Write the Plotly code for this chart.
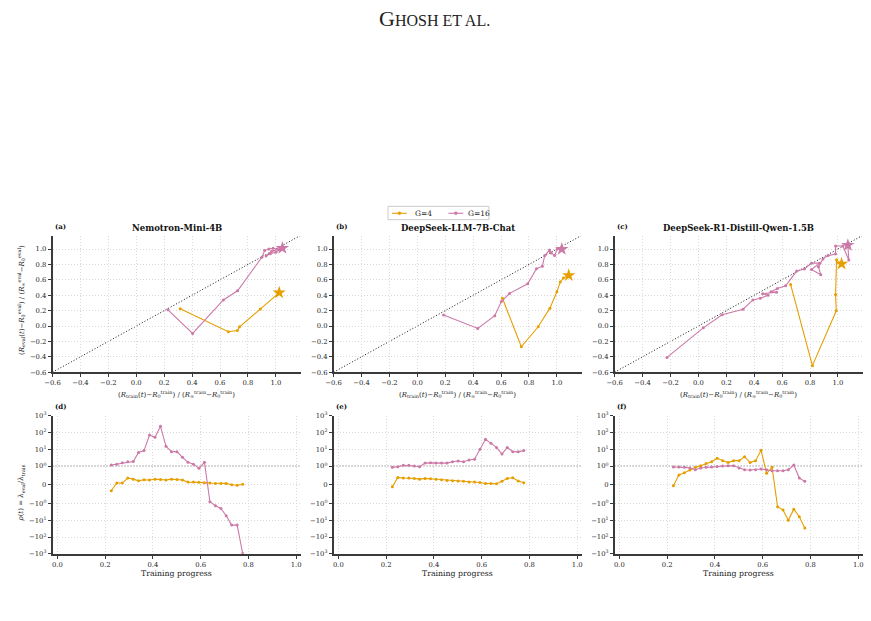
import plotly.graph_objects as go
import math

W, H = 871, 621

# ---------------- data ----------------
# Top row: normalized train reward (x) vs normalized eval reward (y)
a_g4_x = [0.315, 0.66, 0.724, 0.74, 0.889, 1.024]
a_g4_y = [0.224, -0.075, -0.058, -0.01, 0.22, 0.433]
a_g16_x = [0.227, 0.404, 0.624, 0.726, 0.90, 0.92, 0.95, 0.98, 1.01, 1.03, 1.0, 0.96, 0.93, 0.97, 1.047]
a_g16_y = [0.21, -0.096, 0.339, 0.458, 0.893, 0.98, 1.0, 1.01, 1.0, 0.99, 0.96, 0.94, 0.91, 0.97, 1.013]

b_g4_x = [0.61, 0.745, 0.866, 0.95, 1.0, 1.024, 1.047, 1.085]
b_g4_y = [0.36, -0.27, -0.01, 0.232, 0.445, 0.573, 0.624, 0.659]
b_g16_x = [0.188, 0.433, 0.555, 0.602, 0.661, 0.791, 0.854, 0.896, 0.913, 0.948, 0.96, 0.984, 1.002, 1.035]
b_g16_y = [0.142, -0.032, 0.134, 0.317, 0.424, 0.548, 0.744, 0.778, 0.915, 0.987, 0.95, 0.915, 1.0, 1.0]

c_g4_x = [0.661, 0.817, 0.988, 0.983, 0.99, 1.026]
c_g4_y = [0.539, -0.515, 0.198, 0.411, 0.86, 0.808]
c_g16_x = [-0.225, 0.035, 0.17, 0.32, 0.391, 0.443, 0.50, 0.46, 0.56, 0.52, 0.566, 0.625, 0.704, 0.76,
           0.81, 0.87, 0.81, 0.877, 0.86, 0.893, 0.929, 0.983, 0.983, 1.035, 1.078, 1.071]
c_g16_y = [-0.408, -0.024, 0.147, 0.219, 0.339, 0.36, 0.40, 0.42, 0.44, 0.445, 0.488, 0.522, 0.714, 0.74,
           0.817, 0.817, 0.735, 0.667, 0.77, 0.872, 0.915, 0.936, 1.04, 1.04, 0.859, 1.05]

# Bottom row: rho(t) = lambda_eval / lambda_train vs training progress
progress = [0.226, 0.249, 0.272, 0.295, 0.318, 0.340, 0.363, 0.386, 0.409, 0.432, 0.455, 0.478, 0.501,
            0.524, 0.547, 0.570, 0.593, 0.616, 0.639, 0.662, 0.685, 0.707, 0.730, 0.753, 0.776]
d_g4 = [-0.32, 0.09, 0.09, 0.357, 0.30, 0.21, 0.27, 0.25, 0.30, 0.28, 0.25, 0.30, 0.28, 0.25, 0.14,
        0.14, 0.13, 0.11, 0.09, 0.07, 0.07, 0.07, 0.0, -0.03, 0.03]
d_g16 = [1.15, 1.3, 1.58, 1.8, 1.85, 6.5, 8.3, 70, 51, 232, 14.9, 7.2, 7.2, 3.3, 1.66, 1.3, 0.876,
         1.66, -0.91, -1.38, -2.0, -5.4, -19.5, -19.5, -950]
e_g4 = [-0.107, 0.39, 0.36, 0.36, 0.34, 0.30, 0.34, 0.32, 0.30, 0.27, 0.23, 0.21, 0.20, 0.18, 0.14,
        0.14, 0.12, 0.07, 0.07, 0.05, 0.18, 0.34, 0.37, 0.20, 0.11]
e_g16 = [0.93, 0.96, 1.1, 1.1, 1.0, 0.96, 1.5, 1.55, 1.5, 1.5, 1.5, 1.8, 2.0, 1.8, 2.3, 2.5, 9.9, 39,
         22.5, 12.9, 5.2, 12.9, 7.2, 7.0, 8.3]
f_g4 = [-0.05, 0.52, 0.64, 0.79, 0.93, 1.05, 1.44, 1.8, 2.9, 2.1, 1.6, 2.1, 2.1, 3.6, 1.6, 2.1, 8.6,
        0.61, 0.93, -1.58, -2.5, -9.9, -2.2, -6.25, -29.5]
f_g16 = [0.95, 0.95, 0.93, 0.9, 0.8, 0.9, 0.93, 0.95, 0.97, 1.0, 1.05, 1.03, 0.9, 0.8, 0.79, 0.8, 0.84,
         0.8, 0.75, 0.75, 0.75, 0.8, 1.15, 0.36, 0.18]

titles = ["Nemotron-Mini-4B", "DeepSeek-LLM-7B-Chat", "DeepSeek-R1-Distill-Qwen-1.5B"]
top_labels = ["(a)", "(b)", "(c)"]
bot_labels = ["(d)", "(e)", "(f)"]
series_names = ["G=4", "G=16"]
lin_ticks = [-0.6, -0.4, -0.2, 0.0, 0.2, 0.4, 0.6, 0.8, 1.0]
prog_ticks = [0.0, 0.2, 0.4, 0.6, 0.8, 1.0]
sym_ticks = [1000, 100, 10, 1, 0, -1, -10, -100, -1000]
sym_text = ["10<sup>3</sup>", "10<sup>2</sup>", "10<sup>1</sup>", "10<sup>0</sup>", "0",
            "−10<sup>0</sup>", "−10<sup>1</sup>", "−10<sup>2</sup>", "−10<sup>3</sup>"]

C4 = "#E69F00"
C16 = "#CC79A7"
colors = [C4, C16]
FONT = "DejaVu Serif"
AX = "#3a3a3a"

LINSCALE = 1.0 / (1.0 - 0.1)


def symlog(v):
    if abs(v) <= 1:
        return v * LINSCALE
    return math.copysign(LINSCALE + math.log10(abs(v)), v)


def fmt(v):
    return ("−" if v < 0 else "") + f"{abs(v):.1f}"


# ---------------- layout geometry ----------------
col_px = [(45, 296), (329, 580), (613, 864)]
top_py = (235, 373)
bot_py = (417, 557)


def dom_x(c):
    return [col_px[c][0] / W, col_px[c][1] / W]


def dom_y(p):
    return [1 - p[1] / H, 1 - p[0] / H]


def px(x):
    return x / W


def py(y):
    return 1 - y / H


fig = go.Figure()
layout = dict(
    width=W, height=H, margin=dict(l=0, r=0, t=0, b=0),
    paper_bgcolor="white", plot_bgcolor="white",
    font=dict(family=FONT, size=7, color="#222"),
    showlegend=False,
)

GRID_DASH = "1px,2px"
axis_common = dict(showline=True, linecolor=AX, linewidth=1.5, ticks="outside", ticklen=3,
                   tickwidth=1, tickcolor=AX, showgrid=True, gridcolor="#d9d9d9", griddash=GRID_DASH,
                   gridwidth=0.8, zeroline=False, tickfont=dict(size=6.8, family=FONT, color="#222"),
                   mirror=False)

top_data = [((a_g4_x, a_g4_y), (a_g16_x, a_g16_y)),
            ((b_g4_x, b_g4_y), (b_g16_x, b_g16_y)),
            ((c_g4_x, c_g4_y), (c_g16_x, c_g16_y))]
bot_data = [(d_g4, d_g16), (e_g4, e_g16), (f_g4, f_g16)]

annotations = []
shapes = []

for c in range(3):
    ti = c + 1
    bi = c + 4
    tx = "x" if ti == 1 else f"x{ti}"
    ty = "y" if ti == 1 else f"y{ti}"
    bx = f"x{bi}"
    by = f"y{bi}"
    layout[f"xaxis{'' if ti == 1 else ti}"] = dict(axis_common, domain=dom_x(c), anchor=ty,
                                                   range=[-0.6, 1.18], tickvals=lin_ticks,
                                                   ticktext=[fmt(v) for v in lin_ticks])
    layout[f"yaxis{'' if ti == 1 else ti}"] = dict(axis_common, domain=dom_y(top_py), anchor=tx,
                                                   range=[-0.6, 1.17], tickvals=lin_ticks,
                                                   ticktext=[fmt(v) for v in lin_ticks])
    layout[f"xaxis{bi}"] = dict(axis_common, domain=dom_x(c), anchor=by, range=[-0.02, 1.02],
                                tickvals=prog_ticks, ticktext=[f"{v:.1f}" for v in prog_ticks])
    layout[f"yaxis{bi}"] = dict(axis_common, domain=dom_y(bot_py), anchor=bx,
                                range=[symlog(-1000), symlog(1000)],
                                tickvals=[symlog(v) for v in sym_ticks], ticktext=sym_text)

    # diagonal y = x
    shapes.append(dict(type="line", xref=tx, yref=ty, x0=-0.6, y0=-0.6, x1=1.18, y1=1.18,
                       line=dict(color="#111", width=1, dash="1px,2px"), layer="below"))
    # rho = 1 reference
    shapes.append(dict(type="line", xref=bx, yref=by, x0=-0.02, x1=1.02, y0=symlog(1), y1=symlog(1),
                       line=dict(color="#555", width=1, dash="1px,2px"), layer="below"))

    for s, col in enumerate(colors):
        name = series_names[s]
        xs, ys = top_data[c][s]
        fig.add_trace(go.Scatter(x=xs, y=ys, mode="lines+markers", xaxis=tx, yaxis=ty,
                                 line=dict(color=col, width=1.1), marker=dict(size=3, color=col),
                                 name=name))
        fig.add_trace(go.Scatter(x=[xs[-1]], y=[ys[-1]], mode="markers", xaxis=tx, yaxis=ty,
                                 marker=dict(symbol="star", size=10, color=col, line=dict(width=0)),
                                 name=name))
        vals = bot_data[c][s]
        fig.add_trace(go.Scatter(x=progress, y=[symlog(v) for v in vals], mode="lines+markers",
                                 xaxis=bx, yaxis=by, line=dict(color=col, width=1.1),
                                 marker=dict(size=3, color=col), name=name))

    cx = (col_px[c][0] + col_px[c][1]) / 2 / W
    annotations.append(dict(text=f"<b>{titles[c]}</b>", x=cx, y=py(227), xref="paper", yref="paper",
                            showarrow=False, font=dict(size=8.5, family=FONT, color="#111"),
                            xanchor="center", yanchor="middle"))
    annotations.append(dict(text=f"<b>{top_labels[c]}</b>", x=px(col_px[c][0]), y=py(225),
                            xref="paper", yref="paper", showarrow=False,
                            font=dict(size=7, family=FONT, color="#111"), xanchor="left", yanchor="middle"))
    annotations.append(dict(text=f"<b>{bot_labels[c]}</b>", x=px(col_px[c][0]), y=py(408),
                            xref="paper", yref="paper", showarrow=False,
                            font=dict(size=7, family=FONT, color="#111"), xanchor="left", yanchor="middle"))
    annotations.append(dict(text="(<i>R</i><sub>train</sub>(<i>t</i>)−<i>R</i><sub>0</sub><sup>train</sup>) / "
                                 "(<i>R</i><sub>∞</sub><sup>train</sup>−<i>R</i><sub>0</sub><sup>train</sup>)",
                            x=cx, y=py(395), xref="paper", yref="paper", showarrow=False,
                            font=dict(size=7, family=FONT, color="#222"), xanchor="center", yanchor="middle"))
    annotations.append(dict(text="Training progress", x=cx, y=py(577), xref="paper", yref="paper",
                            showarrow=False, font=dict(size=7.8, family=FONT, color="#222"),
                            xanchor="center", yanchor="middle"))

annotations.append(dict(text="(<i>R</i><sub>eval</sub>(<i>t</i>)−<i>R</i><sub>0</sub><sup>eval</sup>) / "
                             "(<i>R</i><sub>∞</sub><sup>eval</sup>−<i>R</i><sub>0</sub><sup>eval</sup>)",
                        x=px(13), y=py(300), xref="paper", yref="paper", showarrow=False, textangle=-90,
                        font=dict(size=7, family=FONT, color="#222"), xanchor="center", yanchor="middle"))
annotations.append(dict(text="<i>ρ</i>(<i>t</i>) = <i>λ</i><sub>eval</sub>/<i>λ</i><sub>train</sub>",
                        x=px(13), y=py(495), xref="paper", yref="paper", showarrow=False, textangle=-90,
                        font=dict(size=7, family=FONT, color="#222"), xanchor="center", yanchor="middle"))
annotations.append(dict(text="G<span style='font-size:16px'>HOSH ET AL.</span>", x=px(431), y=py(15),
                        xref="paper", yref="paper", showarrow=False,
                        font=dict(size=22, family="Liberation Serif", color="#222"),
                        xanchor="center", yanchor="middle"))

# ---- compact legend box (drawn manually to match the reference size) ----
shapes.append(dict(type="rect", xref="paper", yref="paper", x0=px(384), x1=px(486), y0=py(218.5), y1=py(205),
                   line=dict(color="#cccccc", width=1), fillcolor="white", layer="above"))
leg_items = [(388, 409), (445, 463)]
for (lx, tx_), col, name in zip(leg_items, colors, series_names):
    shapes.append(dict(type="line", xref="paper", yref="paper", x0=px(lx), x1=px(lx + 15),
                       y0=py(212), y1=py(212), line=dict(color=col, width=1.1), layer="above"))
    shapes.append(dict(type="circle", xref="paper", yref="paper", x0=px(lx + 6), x1=px(lx + 9),
                       y0=py(213.5), y1=py(210.5), line=dict(color=col, width=0.5), fillcolor=col,
                       layer="above"))
    annotations.append(dict(text=name, x=px(tx_), y=py(212), xref="paper", yref="paper", showarrow=False,
                            font=dict(size=7.5, family=FONT, color="#222"), xanchor="left",
                            yanchor="middle"))

layout["annotations"] = annotations
layout["shapes"] = shapes
fig.update_layout(**layout)
fig.write_html("out.html")
